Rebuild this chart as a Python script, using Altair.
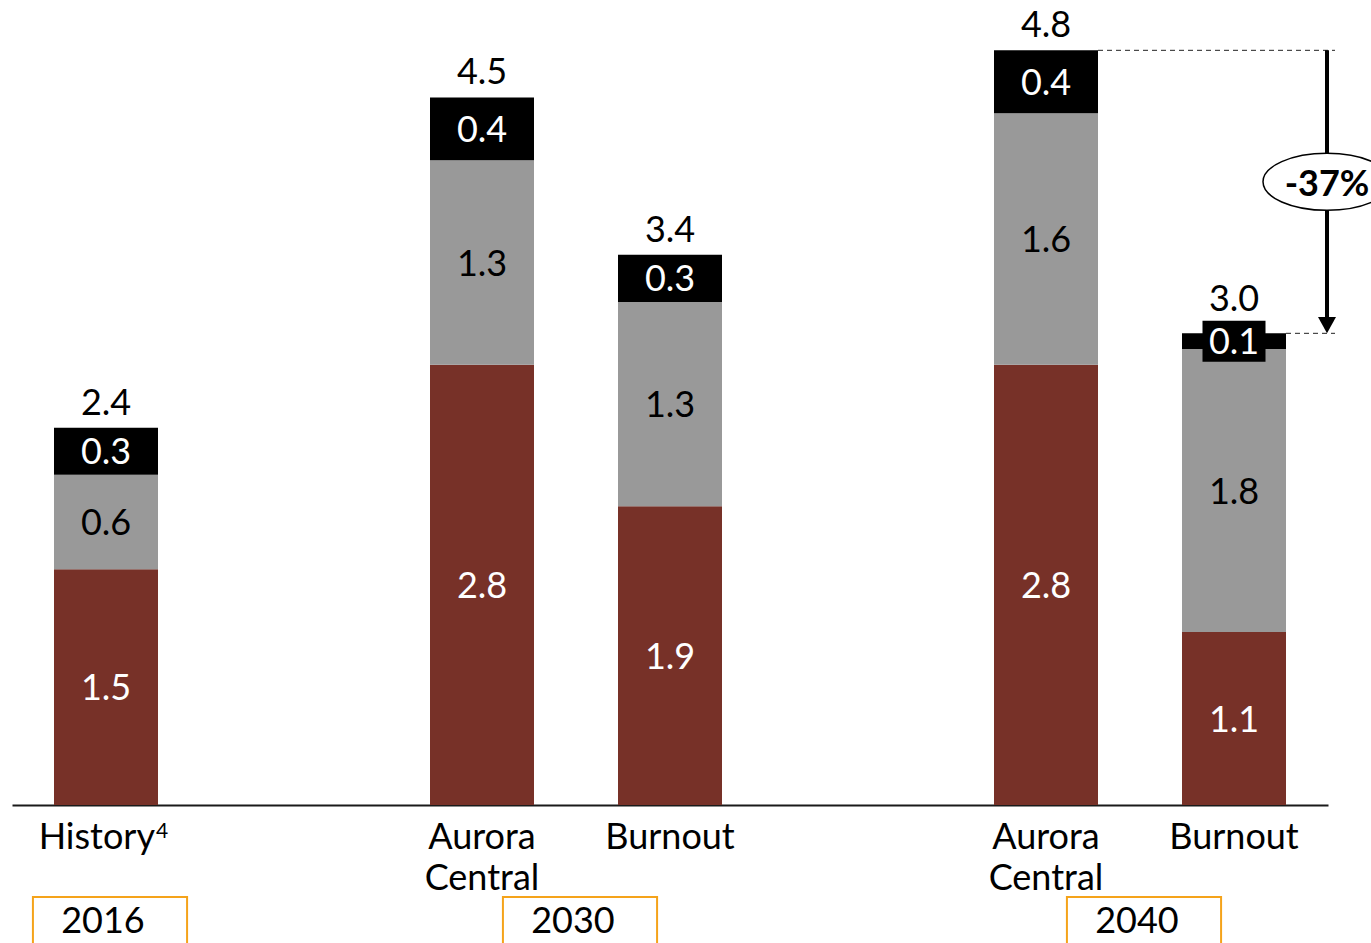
import altair as alt
import pandas as pd

# ---- data -----------------------------------------------------------------
years = ["2016", "2030", "2040"]
scenarios = [["History"], ["Aurora\nCentral", "Burnout"], ["Aurora\nCentral", "Burnout"]]
footnotes = [["4"], ["", ""], ["", ""]]

lower = [1.5, 2.8, 1.9, 2.8, 1.1]
middle = [0.6, 1.3, 1.3, 1.6, 1.8]
upper = [0.3, 0.4, 0.3, 0.4, 0.1]
totals = ["2.4", "4.5", "3.4", "4.8", "3.0"]

change_from, change_to = 3, 4          # bars compared by the arrow
change_label = "-37%"

# ---- layout constants -----------------------------------------------------
FONT = "Lato"
FS = 36
PLOT_W, PLOT_H = 1316, 805
Y_MAX = 5.12
PX_PER_UNIT = PLOT_H / Y_MAX
BAR_W = 104
THIN_PX = 36                           # segments thinner than this get a label box
NOTE_SHIFT = 49                        # anchor shift for a label carrying a footnote mark

seg_names = ["lower", "middle", "upper"]
seg_fill = {"lower": "#773128", "middle": "#999999", "upper": "#000000"}
seg_text = {"lower": "white", "middle": "black", "upper": "white"}

# slot index along the axis: one empty slot between year groups
bars, groups = [], []
slot = 0
for year, names, notes in zip(years, scenarios, footnotes):
    start = slot
    for name, note in zip(names, notes):
        bars.append({"slot": slot, "name": name, "note": note, "year": year})
        slot += 1
    groups.append({"year": year, "center": (start + slot - 1) / 2})
    slot += 1
x_max = slot - 2 + 0.5

seg_rows, top_rows = [], []
for b, vals in enumerate(zip(lower, middle, upper)):
    y0 = 0.0
    for name, v in zip(seg_names, vals):
        y1 = y0 + v
        seg_rows.append({
            "slot": bars[b]["slot"], "seg": name,
            "y0": y0, "y1": y1, "mid": (y0 + y1) / 2, "label": f"{v:.1f}",
            "fill": seg_fill[name], "tcolor": seg_text[name],
            "thin": v * PX_PER_UNIT < THIN_PX,
        })
        y0 = y1
    top_rows.append({
        "slot": bars[b]["slot"], "top": y0, "total": totals[b],
        "top_mid": y0 - vals[-1] / 2, "thin": vals[-1] * PX_PER_UNIT < THIN_PX,
    })

segs = pd.DataFrame(seg_rows)
tops = pd.DataFrame(top_rows)
cats = pd.DataFrame(bars)
cats["has_note"] = cats["note"] != ""
grp = pd.DataFrame(groups)
grp["x0"] = grp["center"] - 0.41
grp["x1"] = grp["center"] + 0.41

a, b2 = top_rows[change_from], top_rows[change_to]
chg = pd.DataFrame([{"from_top": a["top"], "to_top": b2["top"],
                     "mid": (a["top"] + b2["top"]) / 2, "label": change_label}])
ends = tops.iloc[[change_from, change_to]]

# ---- encodings ------------------------------------------------------------
xs = alt.Scale(domain=[-0.5, x_max], nice=False, zero=False, padding=0)
ys = alt.Scale(domain=[0, Y_MAX], nice=False, padding=0)
X = alt.X("slot:Q", scale=xs,
          axis=alt.Axis(labels=False, ticks=False, grid=False, title=None,
                        domainColor="#1a1a1a", domainWidth=2))

bars_layer = alt.Chart(segs).mark_bar(size=BAR_W).encode(
    x=X,
    y=alt.Y("y1:Q", scale=ys, axis=None),
    y2="y0:Q",
    fill=alt.Fill("fill:N", scale=None),
)

label_box = alt.Chart(segs).transform_filter("datum.thin").mark_point(
    shape="M-1,-0.651L1,-0.651L1,0.651L-1,0.651Z", size=63 * 63,
    filled=True, color="black", opacity=1, strokeWidth=0,
).encode(x="slot:Q", y="mid:Q")

seg_labels = alt.Chart(segs).mark_text(
    font=FONT, fontSize=FS, baseline="middle", dy=2,
).encode(
    x="slot:Q", y="mid:Q", text="label:N",
    color=alt.Color("tcolor:N", scale=None),
)

total_labels = alt.Chart(tops).transform_filter("!datum.thin").mark_text(
    font=FONT, fontSize=FS, baseline="alphabetic", dy=-13, color="black",
).encode(x="slot:Q", y="top:Q", text="total:N")

total_labels_thin = alt.Chart(tops).transform_filter("datum.thin").mark_text(
    font=FONT, fontSize=FS, baseline="alphabetic", dy=-30, color="black",
).encode(x="slot:Q", y="top_mid:Q", text="total:N")

cat_labels = alt.Chart(cats).transform_filter("!datum.has_note").mark_text(
    font=FONT, fontSize=FS, baseline="alphabetic", lineBreak="\n",
    lineHeight=41, color="black",
).encode(x="slot:Q", y=alt.value(849), text="name:N")

cat_labels_noted = alt.Chart(cats).transform_filter("datum.has_note").mark_text(
    font=FONT, fontSize=FS, baseline="alphabetic", align="right",
    dx=NOTE_SHIFT, color="black",
).encode(x="slot:Q", y=alt.value(849), text="name:N")

cat_notes = alt.Chart(cats).transform_filter("datum.has_note").mark_text(
    font=FONT, fontSize=21, baseline="alphabetic", align="left",
    dx=NOTE_SHIFT + 1, dy=-11, color="black",
).encode(x="slot:Q", y=alt.value(849), text="note:N")

year_boxes = alt.Chart(grp).mark_rect(
    fill="white", stroke="#F5A31A", strokeWidth=2, xOffset=4, x2Offset=4,
).encode(x="x0:Q", x2="x1:Q", y=alt.value(897), y2=alt.value(990))

year_labels = alt.Chart(grp).mark_text(
    font=FONT, fontSize=FS, baseline="alphabetic", color="black", dx=-3,
).encode(x="center:Q", y=alt.value(933), text="year:N")

# ---- change annotation ----------------------------------------------------
ARROW_X = 1315
guides = alt.Chart(ends).mark_rule(
    xOffset=BAR_W / 2, strokeDash=[5, 4], strokeWidth=1, color="#222",
).encode(x="slot:Q", x2=alt.value(1323), y="top:Q")

arrow = alt.Chart(chg).mark_rule(
    strokeWidth=4, color="black", y2Offset=-14,
).encode(x=alt.value(ARROW_X), y="from_top:Q", y2="to_top:Q")

arrow_head = alt.Chart(chg).mark_point(
    shape="M-1,-1.8L1,-1.8L0,0Z", size=324, filled=True, color="black",
    opacity=1, strokeWidth=0,
).encode(x=alt.value(ARROW_X), y="to_top:Q")

ellipse_path = ("M-1,0C-1,-0.2458,-0.5523,-0.445,0,-0.445"
                "C0.5523,-0.445,1,-0.2458,1,0"
                "C1,0.2458,0.5523,0.445,0,0.445"
                "C-0.5523,0.445,-1,0.2458,-1,0Z")
bubble = alt.Chart(chg).mark_point(
    shape=ellipse_path, size=128 * 128, filled=True, fill="white",
    stroke="black", strokeWidth=1.5, opacity=1, yOffset=-10,
).encode(x=alt.value(ARROW_X), y="mid:Q")

bubble_text = alt.Chart(chg).mark_text(
    font=FONT, fontSize=FS, fontWeight="bold", baseline="middle", dy=-7,
    color="black",
).encode(x=alt.value(ARROW_X), y="mid:Q", text="label:N")

chart = alt.layer(
    bars_layer, label_box, seg_labels, total_labels, total_labels_thin,
    cat_labels, cat_labels_noted, cat_notes, year_boxes, year_labels,
    guides, arrow, arrow_head, bubble, bubble_text,
).properties(
    width=PLOT_W, height=PLOT_H,
    autosize=alt.AutoSizeParams(type="none"),
    padding={"left": 12, "top": 0, "right": 43, "bottom": 138},
    background="white",
).configure_view(stroke=None)

chart.save("out.html", embed_options={"renderer": "svg", "actions": False})
